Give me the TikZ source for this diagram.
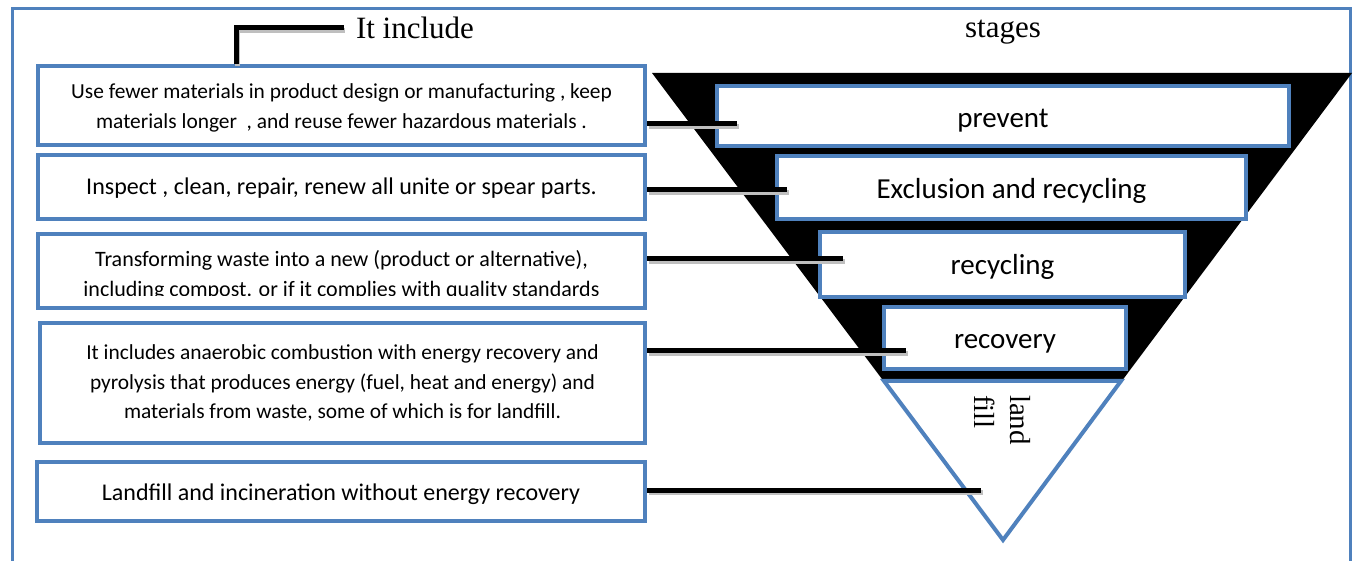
\documentclass[tikz,border=0pt]{standalone}
\usepackage{fontspec}
\setmainfont{Carlito}
\newfontfamily\tnr{Liberation Serif}
\definecolor{obl}{RGB}{79,129,189}
\tikzset{
  box/.style={draw=obl, line width=2pt, fill=white, inner sep=0pt},
  txt/.style={align=center, inner sep=0pt},
  stagetxt/.style={txt, font=\fontsize{14.5}{17}\selectfont},
  conn/.style={line width=2.5pt, black,
    preaction={draw=black!25, line width=2.5pt, transform canvas={xshift=0.8pt,yshift=-1.2pt}}},
  ttl/.style={font=\tnr\fontsize{15.5}{18}\selectfont, inner sep=0pt}
}
\begin{document}
\begin{tikzpicture}[x=0.5pt,y=-0.5pt]
\useasboundingbox (0,0) rectangle (1356,561);
% frame
\draw[obl, line width=1.5pt] (12,570) -- (12,9) -- (1350,9) -- (1350,570);
% titles
\node[ttl] (inc) at (415,28) {It include};
\node[ttl] (stg) at (1003,32) {stages};
% funnel
\fill[black] (652,73) -- (1352,73) -- (1003,540) -- cycle;
\filldraw[fill=white, draw=obl, line width=2pt] (884,381) -- (1121,381) -- (1003,540) -- cycle;
\node[font=\tnr\fontsize{14.5}{18}\selectfont, rotate=-90, align=left, inner sep=0pt] (lf) at (1003,420) {land\\fill};
% stage boxes
\node[box, minimum width=286pt, minimum height=30pt] (s1) at (1003,116) {};
\node[box, minimum width=234.5pt, minimum height=31.5pt] (s2) at (1011.5,187.5) {};
\node[box, minimum width=182.5pt, minimum height=32.5pt] (s3) at (1002.5,264.5) {};
\node[box, minimum width=121pt, minimum height=31pt] (s4) at (1005,338) {};
\node[stagetxt] (l1) at (1003,121) {prevent};
\node[stagetxt] (l2) at (1011.5,190.5) {Exclusion and recycling};
\node[stagetxt] (l3) at (1002.5,266.5) {recycling};
\node[stagetxt] (l4) at (1005,344) {recovery};
% left boxes
\node[box, minimum width=303.5pt, minimum height=39.5pt] (b1) at (341.5,105.5) {};
\node[txt, font=\fontsize{10.7}{15}\selectfont] (t1) at (341.5,108)
  {Use fewer materials in product design or manufacturing , keep\\materials longer\ \ , and reuse fewer hazardous materials .};
\node[box, minimum width=303.5pt, minimum height=32pt] (b2) at (341.5,187) {};
\node[txt, font=\fontsize{12}{15}\selectfont] (t2) at (341.5,188)
  {Inspect , clean, repair, renew all unite or spear parts.};
\node[box, minimum width=303.5pt, minimum height=37pt] (b3) at (341.5,271) {};
\begin{scope}
\clip (44,238) rectangle (640,296);
\node[txt, font=\fontsize{11}{15}\selectfont] (t3) at (341.5,275)
  {Transforming waste into a new (product or alternative),\\including compost. or if it complies with quality standards};
\end{scope}
\node[box, minimum width=302.5pt, minimum height=60pt] (b4) at (342.5,383) {};
\node[txt, font=\fontsize{10.7}{14.8}\selectfont] (t4) at (342.5,383)
  {It includes anaerobic combustion with energy recovery and\\pyrolysis that produces energy (fuel, heat and energy) and\\materials from waste, some of which is for landfill.};
\node[box, minimum width=304pt, minimum height=29.5pt] (b5) at (341,491.5) {};
\node[txt, font=\fontsize{12}{15}\selectfont] (t5) at (341,494)
  {Landfill and incineration without energy recovery};
% connector ends
\coordinate (e1) at (737,124);
\coordinate (e2) at (787,190);
\coordinate (e3) at (843,259);
\coordinate (e4) at (906,351);
\coordinate (e5) at (981,490);
\coordinate (k) at (236,0);
% connectors
\draw[conn] (b1.east |- e1) -- (e1);
\draw[conn] (b2.east |- e2) -- (e2);
\draw[conn] (b3.east |- e3) -- (e3);
\draw[conn] (b4.east |- e4) -- (e4);
\draw[conn] (b5.east |- e5) -- (e5);
\draw[conn] (b1.north -| k) |- ([xshift=-6pt]inc.west);
\end{tikzpicture}
\end{document}
